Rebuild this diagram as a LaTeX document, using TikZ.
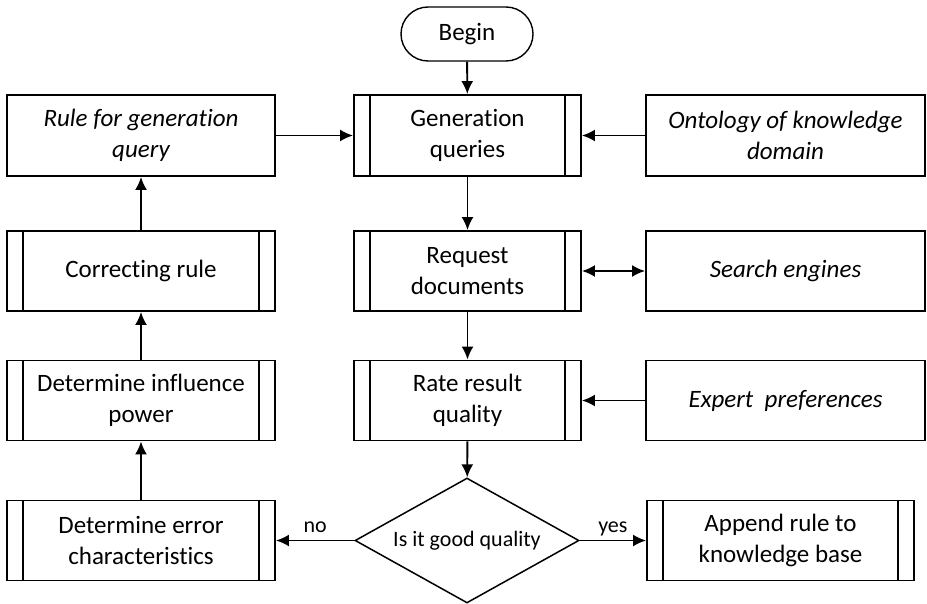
\documentclass[tikz,border=0pt]{standalone}
\usepackage{fontspec}
\setmainfont{Carlito}[Ligatures=NoCommon]
\usetikzlibrary{shapes.geometric,shapes.misc,arrows.meta}
\begin{document}
\begin{tikzpicture}[x=1pt,y=-1pt,
  every node/.style={font=\fontsize{25}{31}\selectfont, align=center, inner sep=0pt},
  box/.style={draw, rectangle, line width=1.9pt, minimum height=80pt},
  leftcol/.style={box, minimum width=268pt},
  midcol/.style={box, minimum width=227pt},
  rightcol/.style={box, minimum width=279pt, font=\fontsize{25}{31}\selectfont\itshape},
  proc/.style={path picture={
      \draw[line width=#1] ([xshift=16pt]path picture bounding box.north west)
        -- ([xshift=16pt]path picture bounding box.south west);
      \draw[line width=1.9pt] ([xshift=-16pt]path picture bounding box.north east)
        -- ([xshift=-16pt]path picture bounding box.south east);}},
  proc/.default=1.9pt,
  terminal/.style={draw, rounded rectangle, line width=1.4pt, minimum width=132pt, minimum height=54pt},
  decision/.style={draw, diamond, line width=1.5pt, aspect=1.79, minimum width=224pt,
      minimum height=125pt, font=\fontsize{22}{27}\selectfont},
  tip/.tip={Latex[length=13pt,width=12pt]},
  arr/.style={line width=1.9pt, -tip},
  biarr/.style={line width=1.9pt, tip-tip},
  lbl/.style={font=\fontsize{22}{27}\selectfont, anchor=base, yshift=8.5pt},
]
\useasboundingbox (0,0) rectangle (927,604);

% start
\node[terminal] (begin) at (467,34) {Begin};

% left column
\node[leftcol, minimum height=81pt, font=\fontsize{25}{31}\selectfont\itshape] (rule) at (141,135.5) {Rule for generation\\query};
\node[leftcol, proc] (correct) at (141,271) {Correcting rule};
\node[leftcol, proc] (influence) at (141,400.5) {Determine influence\\power};
\node[leftcol, proc] (error) at (141,540.5) {Determine error\\characteristics};

% middle column
\node[midcol, minimum height=81pt, proc=1.1pt] (gen) at (467.5,135.5) {Generation\\queries};
\node[midcol, proc=1.1pt] (request) at (467.5,271) {Request\\documents};
\node[midcol, proc=1.1pt] (rate) at (467.5,400.5) {Rate result\\quality};
\node[decision] (dec) at (467,540.5) {Is it good quality};

% right column
\node[rightcol, minimum height=81pt] (onto) at (785.5,135.5) {Ontology of knowledge\\domain};
\node[rightcol] (search) at (785.5,271) {Search engines};
\node[rightcol] (expert) at (785.5,400.5) {Expert\ \ preferences};
\node[box, proc, minimum width=267pt] (append) at (780.5,540.5) {Append rule to\\knowledge base};

% connectors
\draw[arr] (begin) -- (gen);
\draw[arr] (rule) -- (gen);
\draw[arr] (onto) -- (gen);
\draw[arr] (gen) -- (request);
\draw[biarr] (request) -- (search);
\draw[arr] (request) -- (rate);
\draw[arr] (expert) -- (rate);
\draw[arr] (rate) -- (dec);
\draw[arr] (dec) -- node[lbl] {no} (error);
\draw[arr] (dec) -- node[lbl] {yes} (append);
\draw[arr] (error) -- (influence);
\draw[arr] (influence) -- (correct);
\draw[arr] (correct) -- (rule);
\end{tikzpicture}
\end{document}
